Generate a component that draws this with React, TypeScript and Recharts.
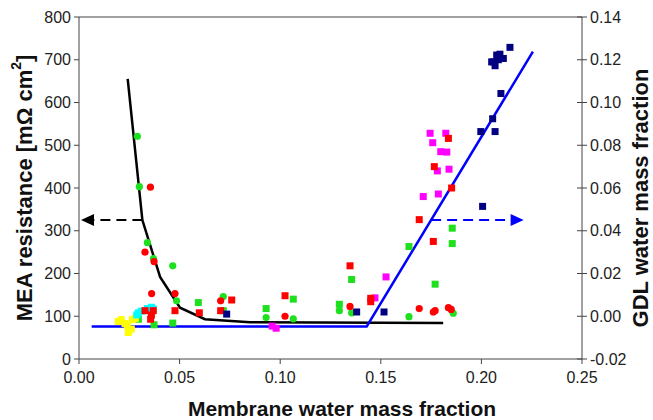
import { ComposedChart, Scatter, Line, XAxis, YAxis, ReferenceLine } from 'recharts'

// membrane water mass fraction (x) vs MEA resistance in mΩ cm² (y)
const greenCircles = [
  [0.029, 521], [0.030, 403], [0.034, 272], [0.037, 235], [0.0466, 218], [0.0485, 136],
  [0.0717, 146], [0.093, 97], [0.1065, 94], [0.1294, 113], [0.1355, 108], [0.164, 99], [0.186, 107],
]
const greenSquares = [
  [0.0295, 93], [0.0373, 80], [0.0466, 84], [0.0593, 132], [0.0717, 113], [0.093, 118],
  [0.1065, 140], [0.1294, 128], [0.1355, 186], [0.164, 263], [0.177, 175], [0.1855, 306], [0.1855, 270],
]
const redCircles = [
  [0.0355, 402], [0.0328, 250], [0.0373, 228], [0.0361, 153], [0.0477, 153], [0.0704, 136],
  [0.1024, 100], [0.1347, 123], [0.1691, 118], [0.1761, 110], [0.177, 113], [0.1836, 120], [0.185, 116],
]
const redSquares = [
  [0.0328, 113], [0.0369, 113], [0.0356, 93], [0.036, 103], [0.0477, 113], [0.0598, 108],
  [0.0704, 113], [0.0759, 138], [0.1024, 148], [0.1347, 218], [0.145, 142], [0.145, 134],
  [0.1691, 326], [0.1761, 275], [0.1766, 450], [0.1836, 516], [0.1852, 400],
]
const magentaSquares = [
  [0.096, 77], [0.098, 72], [0.1471, 143], [0.1526, 192], [0.1711, 380], [0.1786, 386],
  [0.1745, 528], [0.1823, 528], [0.1758, 506], [0.1798, 485], [0.1828, 484], [0.1781, 440], [0.1839, 444],
]
const navySquares = [
  [0.0734, 105], [0.138, 110], [0.1516, 110], [0.2006, 357], [0.1997, 532], [0.2068, 532],
  [0.2056, 562], [0.2097, 621], [0.2142, 729], [0.206, 695], [0.2076, 711], [0.2092, 713],
  [0.2109, 703], [0.2068, 686], [0.2051, 695], [0.2084, 700],
]
const yellowSquares = [
  [0.0195, 88], [0.021, 92], [0.0229, 83], [0.024, 78], [0.0245, 62], [0.026, 70], [0.0265, 92], [0.028, 95],
]
const cyanSquares = [
  [0.0287, 103], [0.0295, 108], [0.031, 112], [0.034, 118], [0.037, 117], [0.036, 121],
]

// fitted resistance curve (left axis)
const resistanceFit = [
  [0.0242, 655], [0.0315, 325], [0.0403, 192], [0.0502, 120], [0.0626, 93], [0.085, 86], [0.181, 84],
]
// GDL water fit (right axis)
const gdlFit = [
  [0.0063, -0.0048], [0.143, -0.0048], [0.2256, 0.1238],
]
const leftArrow = [[0.0315, 325], [0.001, 325]]
const rightArrow = [[0.175, 0.045], [0.221, 0.045]]

const xTicks = [0, 0.05, 0.1, 0.15, 0.2, 0.25]
const leftTicks = [0, 100, 200, 300, 400, 500, 600, 700, 800]
const rightTicks = [-0.02, 0, 0.02, 0.04, 0.06, 0.08, 0.1, 0.12, 0.14]

const pts = (arr: number[][]) => arr.map(([x, y]) => ({ x, y }))

const axisColor = '#444'
const tickStyle = { fill: '#222', fontSize: 16 }

const square = (color: string) => (p: any) => (
  <rect x={p.cx - 3.5} y={p.cy - 3.5} width={7} height={7} fill={color} />
)
const circle = (color: string) => (p: any) => <circle cx={p.cx} cy={p.cy} r={3.6} fill={color} />

// arrowhead drawn on the last point of a dashed segment
const arrowDot = (color: string, dir: number, last: number) => (p: any) => {
  if (p.index !== last) return <g key={p.index} />
  const { cx, cy } = p
  return (
    <polygon
      key={p.index}
      points={`${cx},${cy} ${cx - dir * 13},${cy - 6} ${cx - dir * 13},${cy + 6}`}
      fill={color}
    />
  )
}

const RightTick = ({ x, y, payload }: any) => (
  <g>
    <line x1={x - 13} x2={x - 3} y1={y} y2={y} stroke={axisColor} />
    <text x={x} y={y} dy="0.35em" textAnchor="start" {...tickStyle}>
      {payload.value.toFixed(2)}
    </text>
  </g>
)

export default function App() {
  return (
    <div style={{ position: 'absolute', left: 0, top: 0, fontFamily: '"Liberation Sans", Arial, sans-serif' }}>
      <ComposedChart width={653} height={420} margin={{ top: 17, right: 0, bottom: 0, left: 0 }}>
        <XAxis
          type="number"
          dataKey="x"
          domain={[0, 0.25]}
          ticks={xTicks}
          tickFormatter={v => v.toFixed(2)}
          height={61}
          tick={tickStyle}
          tickSize={5}
          tickMargin={8}
          stroke={axisColor}
          label={{
            content: () => (
              <text x={342} y={408} textAnchor="middle" dominantBaseline="central" fontWeight="bold" fontSize={21} fill="#111">
                Membrane water mass fraction
              </text>
            ),
          }}
        />
        <YAxis
          yAxisId="left"
          dataKey="y"
          type="number"
          domain={[0, 800]}
          ticks={leftTicks}
          width={79}
          tick={tickStyle}
          tickSize={5}
          tickMargin={3}
          stroke={axisColor}
          label={{
            content: () => (
              <text x={24} y={188} transform="rotate(-90 24 188)" textAnchor="middle" dominantBaseline="central" fontWeight="bold" fontSize={22} fill="#111">
                MEA resistance [mΩ cm<tspan dy={-8} fontSize={14}>2</tspan><tspan dy={8}>]</tspan>
              </text>
            ),
          }}
        />
        <YAxis
          yAxisId="right"
          orientation="right"
          dataKey="y"
          type="number"
          domain={[-0.02, 0.14]}
          ticks={rightTicks}
          width={71}
          tick={<RightTick />}
          tickLine={false}
          tickSize={5}
          tickMargin={3}
          stroke={axisColor}
          label={{
            content: () => (
              <text x={640} y={198} transform="rotate(-90 640 198)" textAnchor="middle" dominantBaseline="central" fontWeight="bold" fontSize={22} fill="#111">
                GDL water mass fraction
              </text>
            ),
          }}
        />
        <ReferenceLine yAxisId="left" y={800} stroke={axisColor} />

        <Scatter yAxisId="left" dataKey="y" data={pts(greenSquares)} shape={square('#1ee01e')} isAnimationActive={false} />
        <Scatter yAxisId="left" dataKey="y" data={pts(greenCircles)} shape={circle('#1ee01e')} isAnimationActive={false} />
        <Scatter yAxisId="left" dataKey="y" data={pts(yellowSquares)} shape={square('#ffff00')} isAnimationActive={false} />
        <Scatter yAxisId="left" dataKey="y" data={pts(cyanSquares)} shape={square('#00ffff')} isAnimationActive={false} />
        <Scatter yAxisId="left" dataKey="y" data={pts(magentaSquares)} shape={square('#ff00ff')} isAnimationActive={false} />
        <Scatter yAxisId="left" dataKey="y" data={pts(redSquares)} shape={square('#ff0000')} isAnimationActive={false} />
        <Scatter yAxisId="left" dataKey="y" data={pts(redCircles)} shape={circle('#ff0000')} isAnimationActive={false} />
        <Scatter yAxisId="left" dataKey="y" data={pts(navySquares)} shape={square('#000080')} isAnimationActive={false} />

        <Line yAxisId="left" data={pts(resistanceFit)} dataKey="y" type="linear" stroke="#000" strokeWidth={2.5} dot={false} isAnimationActive={false} />
        <Line yAxisId="right" data={pts(gdlFit)} dataKey="y" type="linear" stroke="#0000ff" strokeWidth={2.5} dot={false} isAnimationActive={false} />
        <Line
          yAxisId="left"
          data={pts(leftArrow)}
          dataKey="y"
          type="linear"
          stroke="#000"
          strokeWidth={2}
          strokeDasharray="10 6"
          dot={arrowDot('#000', -1, 1)}
          isAnimationActive={false}
        />
        <Line
          yAxisId="right"
          data={pts(rightArrow)}
          dataKey="y"
          type="linear"
          stroke="#0000ff"
          strokeWidth={2}
          strokeDasharray="10 6"
          dot={arrowDot('#0000ff', 1, 1)}
          isAnimationActive={false}
        />
      </ComposedChart>
    </div>
  )
}
